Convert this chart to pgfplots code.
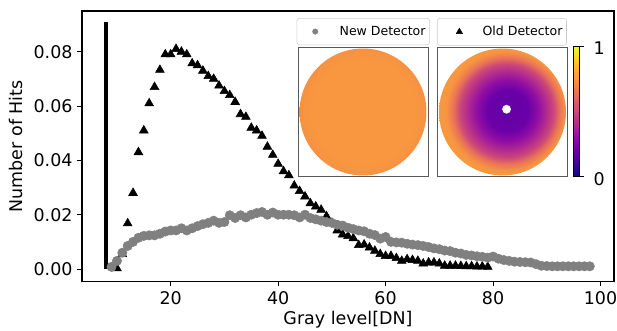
\documentclass[border=0pt]{standalone}
\usepackage{fontspec}
\setmainfont{DejaVu Sans}
\usepackage{pgfplots}
\pgfplotsset{compat=1.18}

\definecolor{p0}{RGB}{13,8,135}
\definecolor{p1}{RGB}{65,4,157}
\definecolor{p2}{RGB}{106,0,168}
\definecolor{p3}{RGB}{143,13,164}
\definecolor{p4}{RGB}{177,42,144}
\definecolor{p5}{RGB}{204,71,120}
\definecolor{p6}{RGB}{225,100,98}
\definecolor{p7}{RGB}{242,132,75}
\definecolor{p8}{RGB}{252,166,54}
\definecolor{p9}{RGB}{252,206,37}
\definecolor{p10}{RGB}{240,249,33}
\definecolor{newgray}{RGB}{128,128,128}
\colorlet{c0}{p2!85!p1}
\colorlet{c67}{p6!50!p7}
\colorlet{c78}{p7!55!p8}
\colorlet{cedge}{p8!60!p7}
\colorlet{lcen}{p8!55!p7}
\colorlet{ledge}{p8!40!p7}

\pgfdeclareverticalshading{plasma}{100bp}{color(0bp)=(p0); color(25bp)=(p0); color(30bp)=(p1); color(35bp)=(p2); color(40bp)=(p3); color(45bp)=(p4); color(50bp)=(p5); color(55bp)=(p6); color(60bp)=(p7); color(65bp)=(p8); color(70bp)=(p9); color(75bp)=(p10); color(100bp)=(p10)}
\pgfdeclareradialshading{olddet}{\pgfpoint{2.5bp}{0.7bp}}{color(0bp)=(c0); color(8bp)=(p2); color(12bp)=(p3); color(15.5bp)=(p4); color(18.5bp)=(p5); color(21bp)=(c67); color(23.5bp)=(c78); color(25bp)=(cedge); color(50bp)=(cedge)}
\pgfdeclareradialshading{newdet}{\pgfpoint{0bp}{0bp}}{color(0bp)=(lcen); color(21bp)=(lcen); color(25bp)=(ledge); color(50bp)=(ledge)}

\pgfplotstableread{
x y
10 0.0003
11 0.0055
12 0.0168
13 0.0280
14 0.0430
15 0.0510
16 0.0610
17 0.0670
18 0.0733
19 0.0790
20 0.0790
21 0.0810
22 0.0800
23 0.0790
24 0.0757
25 0.0750
26 0.0730
27 0.0710
28 0.0700
29 0.0675
30 0.0655
31 0.0640
32 0.0615
33 0.0570
34 0.0560
35 0.0520
36 0.0510
37 0.0490
38 0.0450
39 0.0420
40 0.0387
41 0.0360
42 0.0345
43 0.0307
44 0.0287
45 0.0267
46 0.0242
47 0.0230
48 0.0218
49 0.0194
50 0.0170
51 0.0142
52 0.0127
53 0.0121
54 0.0113
55 0.0088
56 0.0090
57 0.0079
58 0.0067
59 0.0055
60 0.0048
61 0.0048
62 0.0040
63 0.0030
64 0.0036
65 0.0033
66 0.0030
67 0.0020
68 0.0024
69 0.0024
70 0.0020
71 0.0012
72 0.0012
73 0.0012
74 0.0011
75 0.0010
76 0.0010
77 0.0009
78 0.0009
79 0.0008
}\olddata

\pgfplotstableread{
x y
9 0.0008
10 0.0030
11 0.0060
12 0.0085
13 0.0100
14 0.0115
15 0.0122
16 0.0124
17 0.0124
18 0.0130
19 0.0138
20 0.0142
21 0.0142
22 0.0150
23 0.0142
24 0.0150
25 0.0158
26 0.0165
27 0.0170
28 0.0178
29 0.0170
30 0.0173
31 0.0198
32 0.0188
33 0.0198
34 0.0190
35 0.0200
36 0.0206
37 0.0210
38 0.0200
39 0.0208
40 0.0200
41 0.0200
42 0.0200
43 0.0198
44 0.0190
45 0.0200
46 0.0188
47 0.0183
48 0.0178
49 0.0173
50 0.0170
51 0.0163
52 0.0160
53 0.0152
54 0.0147
55 0.0142
56 0.0139
57 0.0130
58 0.0125
59 0.0112
60 0.0118
61 0.0100
62 0.0098
63 0.0097
64 0.0093
65 0.0090
66 0.0088
67 0.0085
68 0.0081
69 0.0076
70 0.0073
71 0.0068
72 0.0066
73 0.0060
74 0.0057
75 0.0052
76 0.0050
77 0.0047
78 0.0045
79 0.0042
80 0.0046
81 0.0038
82 0.0033
83 0.0030
84 0.0027
85 0.0026
86 0.0025
87 0.0024
88 0.0018
89 0.0012
90 0.0011
91 0.0010
92 0.0010
93 0.0010
94 0.0010
95 0.0010
96 0.0010
97 0.0010
98 0.0010
}\newdata

\pgfplotsset{
  common/.style={
    at={(61.5pt,37.1pt)}, anchor=south west, scale only axis,
    width=399pt, height=202.9pt,
    xmin=3.5, xmax=102.5, ymin=-0.0046, ymax=0.095,
    clip=false,
  },
  legbox/.style={
    draw=black!20, rounded corners=2pt, fill=white,
    inner xsep=3pt, inner ysep=2.3pt,
    font=\fontsize{9.4}{11}\selectfont,
    nodes={inner xsep=0pt, inner ysep=3.5pt},
    cells={anchor=west},
  },
  legimgold/.style={legend image code/.code={\path[draw=none] (0pt,0pt) -- (31pt,0pt); \path[##1, draw=none, mark size=2.7pt] plot coordinates {(13.6pt,0pt)};}},
  legimgnew/.style={legend image code/.code={\path[draw=none] (0pt,0pt) -- (29pt,0pt); \path[##1, draw=none, mark size=2pt] plot coordinates {(10.7pt,0pt)};}},
}

\begin{document}
\begin{tikzpicture}[x=1pt,y=1pt]
\useasboundingbox (0,0) rectangle (462.75,248.25);
\begin{axis}[common,
  xtick={20,40,60,80,100},
  ytick={0,0.02,0.04,0.06,0.08},
  scaled y ticks=false,
  yticklabel style={/pgf/number format/.cd, fixed, fixed zerofill, precision=2},
  /pgf/number format/assume math mode=true,
  tick align=outside, tick pos=left,
  major tick length=3.6pt,
  tick style={black, line width=0.8pt},
  axis line style={line width=0.8pt},
  ticklabel style={font=\fontsize{13.1}{15}\selectfont},
  label style={font=\fontsize{13.1}{15}\selectfont},
  xlabel={Gray level[DN]},
  ylabel={Number of Hits},
  xlabel style={at={(axis description cs:0.5,-0.142)}, anchor=center},
  ylabel style={at={(axis description cs:-0.124,0.5)}, anchor=center},
  legend style={legbox, at={(axis description cs:0.6673,0.974)}, anchor=north west},
]
\addplot[black, line width=3pt, forget plot] coordinates {(8,0) (8,0.091)};
\addplot[only marks, mark=triangle*, mark size=3.8pt, black, legimgold]
  table[x=x, y=y] {\olddata};
\addlegendentry{Old Detector}
\end{axis}
\begin{axis}[common, hide axis,
  legend style={legbox, at={(axis description cs:0.4036,0.974)}, anchor=north west},
]
\addplot[only marks, mark=*, mark size=3.5pt, color=newgray, legimgnew]
  table[x=x, y=y] {\newdata};
\addlegendentry{New Detector}
\end{axis}
% inset images
\shade[shading=newdet] (272.25,164.25) circle (47.6);
\draw[black!65, line width=0.6pt] (223.5,115.7) rectangle (321,212.5);
\shade[shading=olddet] (376.9,164.25) circle (47.6);
\fill[white] (379.9,166.3) circle (3.3);
\draw[black!65, line width=0.6pt] (328.3,115.7) rectangle (425.5,212.5);
% colorbar
\shade[shading=plasma] (430,115.7) rectangle (434.5,213.2);
\draw[black, line width=0.8pt] (430,115.7) rectangle (434.5,213.2);
\draw[black, line width=0.8pt] (434.5,213.2) -- ++(3.75,0);
\draw[black, line width=0.8pt] (434.5,115.7) -- ++(3.75,0);
\node[font=\fontsize{13.1}{15}\selectfont, inner sep=0pt] at (449.3,212.5) {1};
\node[font=\fontsize{13.1}{15}\selectfont, inner sep=0pt] at (449.3,114.2) {0};
\end{tikzpicture}
\end{document}
